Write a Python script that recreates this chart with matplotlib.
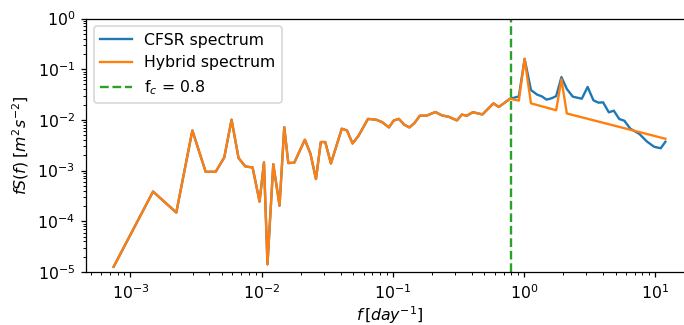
import matplotlib
matplotlib.use("Agg")
import matplotlib.pyplot as plt

# shared low-frequency part (both spectra identical below fc)
f_low = [7.46e-4, 1.49e-3, 2.24e-3, 2.97e-3, 3.75e-3, 4.47e-3, 5.20e-3, 5.91e-3,
         6.68e-3, 7.52e-3, 8.55e-3, 9.66e-3, 1.044e-2, 1.11e-2, 1.229e-2, 1.372e-2,
         1.49e-2, 1.60e-2, 1.776e-2, 2.14e-2, 2.36e-2, 2.60e-2, 2.83e-2, 3.06e-2,
         3.38e-2, 4.09e-2, 4.48e-2, 4.94e-2, 5.49e-2, 6.48e-2, 7.48e-2, 8.32e-2,
         9.35e-2, 0.102, 0.1115, 0.1224, 0.134, 0.1466, 0.161, 0.1806, 0.2115,
         0.2383, 0.266, 0.3083, 0.3367, 0.3675, 0.408, 0.4826, 0.586, 0.644, 0.783]
s_low = [1.27e-5, 3.86e-4, 1.49e-4, 6.20e-3, 9.47e-4, 9.47e-4, 1.82e-3, 1.01e-2,
         1.77e-3, 1.21e-3, 1.15e-3, 2.45e-4, 1.45e-3, 1.42e-5, 1.34e-3, 2.04e-4,
         7.17e-3, 1.41e-3, 1.43e-3, 4.06e-3, 2.15e-3, 6.82e-4, 3.66e-3, 3.66e-3,
         1.38e-3, 6.70e-3, 6.20e-3, 3.43e-3, 4.87e-3, 1.047e-2, 1.01e-2, 9.01e-3,
         7.11e-3, 9.77e-3, 1.047e-2, 8.04e-3, 7.11e-3, 8.68e-3, 1.21e-2, 1.21e-2,
         1.43e-2, 1.22e-2, 1.16e-2, 9.77e-3, 1.27e-2, 1.21e-2, 1.42e-2, 1.28e-2,
         2.12e-2, 1.80e-2, 2.61e-2]

# CFSR spectrum above fc
f_cfsr_high = [0.915, 1.013, 1.132, 1.262, 1.370, 1.488, 1.633, 1.761, 1.932, 2.124,
               2.36, 2.764, 3.06, 3.39, 3.70, 4.016, 4.44, 4.845, 5.335, 5.826,
               6.48, 7.59, 8.65, 9.83, 11.05, 11.98]
s_cfsr_high = [2.90e-2, 0.160, 3.88e-2, 3.15e-2, 2.91e-2, 2.51e-2, 2.68e-2, 2.94e-2,
               6.98e-2, 4.08e-2, 2.87e-2, 2.62e-2, 4.47e-2, 2.43e-2, 2.19e-2, 2.22e-2,
               1.41e-2, 1.52e-2, 1.04e-2, 9.64e-3, 6.70e-3, 5.29e-3, 3.76e-3, 2.95e-3,
               2.76e-3, 3.71e-3]

# Hybrid spectrum above fc
f_hyb_high = [0.915, 1.013, 1.132, 1.761, 1.932, 2.124, 11.98]
s_hyb_high = [2.40e-2, 0.160, 2.12e-2, 1.55e-2, 6.32e-2, 1.34e-2, 4.25e-3]

fc = 0.8

f_cfsr = f_low + f_cfsr_high
s_cfsr = s_low + s_cfsr_high
f_hyb = f_low + f_hyb_high
s_hyb = s_low + s_hyb_high

DPI = 113
W, H = 684, 325
fig = plt.figure(figsize=(W / DPI, H / DPI), dpi=DPI)
ax = fig.add_axes([86 / W, (H - 272) / H, (693 - 86) / W, (272 - 18.5) / H])

ax.loglog(f_cfsr, s_cfsr, color='tab:blue', lw=1.5, label='CFSR spectrum')
ax.loglog(f_hyb, s_hyb, color='tab:orange', lw=1.5, label='Hybrid spectrum')
ax.axvline(fc, color='tab:green', ls='--', lw=1.5, label='f$_c$ = 0.8')

ax.set_ylim(1e-5, 1)
ax.set_xlim(10 ** -3.338, 10 ** 1.289)
ax.set_xlabel(r'$f\,[day^{-1}]$', labelpad=1.5)
ax.set_ylabel(r'$fS(f)\;[m^2s^{-2}]$')
ax.legend(loc='upper left')

fig.savefig('out.png', dpi=DPI)
